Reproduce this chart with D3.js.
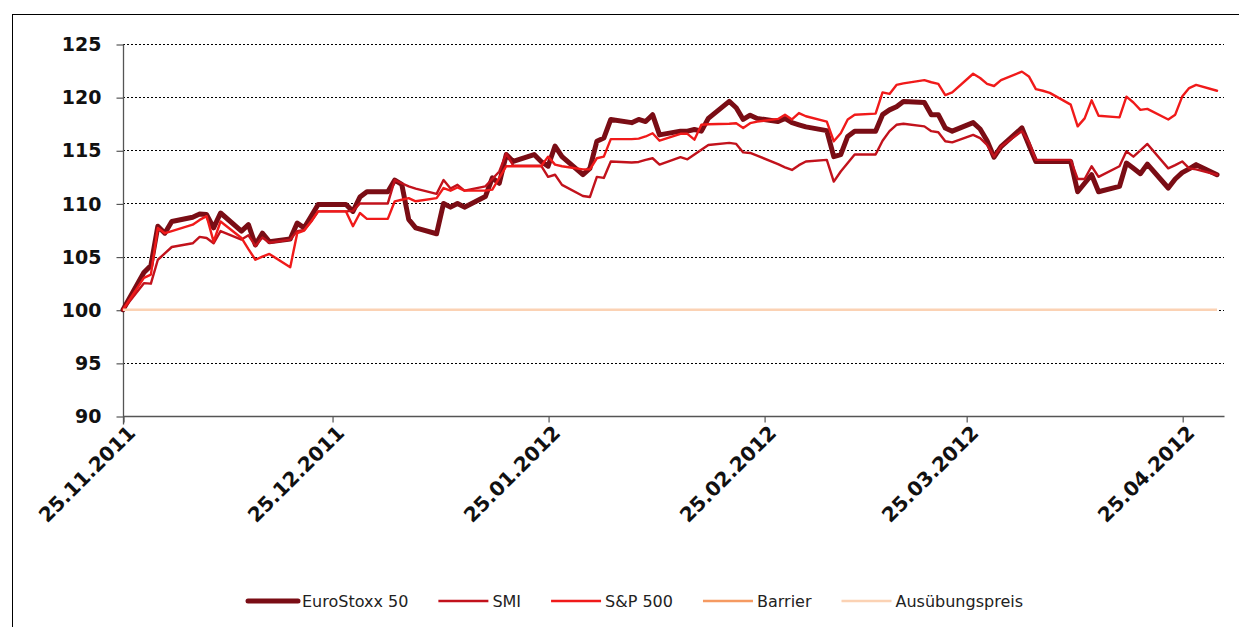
<!DOCTYPE html>
<html>
<head>
<meta charset="utf-8">
<script src="https://cdn.jsdelivr.net/npm/d3@7"></script>
<style>
  html, body { margin: 0; padding: 0; background: #fff; }
  svg { display: block; }
</style>
</head>
<body>
<svg id="chart" width="1239" height="627"></svg>
<script>
// ---------- DATA ----------
const dates = [
  "2011-11-25","2011-11-28","2011-11-29","2011-11-30",
  "2011-12-01","2011-12-02","2011-12-05","2011-12-06","2011-12-07","2011-12-08","2011-12-09",
  "2011-12-12","2011-12-13","2011-12-14","2011-12-15","2011-12-16","2011-12-19","2011-12-20",
  "2011-12-21","2011-12-22","2011-12-23","2011-12-26","2011-12-27","2011-12-28","2011-12-29","2011-12-30",
  "2012-01-02","2012-01-03","2012-01-04","2012-01-05","2012-01-06","2012-01-09","2012-01-10",
  "2012-01-11","2012-01-12","2012-01-13","2012-01-16","2012-01-17","2012-01-18","2012-01-19",
  "2012-01-20","2012-01-23","2012-01-24","2012-01-25","2012-01-26","2012-01-27","2012-01-30","2012-01-31",
  "2012-02-01","2012-02-02","2012-02-03","2012-02-06","2012-02-07","2012-02-08","2012-02-09","2012-02-10",
  "2012-02-13","2012-02-14","2012-02-15","2012-02-16","2012-02-17","2012-02-20","2012-02-21","2012-02-22",
  "2012-02-23","2012-02-24","2012-02-27","2012-02-28","2012-02-29",
  "2012-03-01","2012-03-02","2012-03-05","2012-03-06","2012-03-07","2012-03-08","2012-03-09","2012-03-12",
  "2012-03-13","2012-03-14","2012-03-15","2012-03-16","2012-03-19","2012-03-20","2012-03-21","2012-03-22",
  "2012-03-23","2012-03-26","2012-03-27","2012-03-28","2012-03-29","2012-03-30",
  "2012-04-02","2012-04-03","2012-04-04","2012-04-05","2012-04-06","2012-04-09","2012-04-10","2012-04-11",
  "2012-04-12","2012-04-13","2012-04-16","2012-04-17","2012-04-18","2012-04-19","2012-04-20","2012-04-23",
  "2012-04-24","2012-04-25","2012-04-26","2012-04-27","2012-04-30"
];

const euroStoxx50 = [
  100,103.5,104.15,107.85,
  107.2,108.3,108.7,109.0,108.95,107.7,109.1,
  107.4,108.0,106.1,107.2,106.4,106.65,108.15,
  107.7,108.8,109.9,109.9,109.9,109.25,110.6,111.1,
  111.1,112.2,111.8,108.5,107.7,107.15,110.0,
  109.65,110.0,109.65,110.65,112.4,111.9,114.6,
  113.95,114.6,113.95,113.5,115.4,114.4,112.7,113.3,
  115.85,116.15,117.9,117.6,117.9,117.7,118.35,116.45,
  116.8,116.8,116.95,116.8,118.0,119.6,119.0,117.9,
  118.3,118.0,117.7,118.0,117.6,
  117.4,117.2,116.85,114.4,114.6,116.3,116.8,116.8,
  118.35,118.8,119.1,119.6,119.5,118.35,118.35,117.1,
  116.8,117.6,117.0,115.9,114.35,115.35,
  117.1,115.5,113.95,113.95,113.95,113.95,111.1,111.9,
  112.7,111.1,111.6,113.8,113.3,112.8,113.7,111.45,
  112.3,112.9,113.25,113.65,112.7
];

const smi = [
  100,102.5,102.45,104.7,
  105.3,105.9,106.25,106.85,106.75,106.25,107.4,
  106.6,107.0,106.0,106.8,106.3,106.6,107.4,
  107.5,108.3,109.25,109.25,109.25,109.3,110.0,110.0,
  110.0,112.2,111.9,111.6,111.4,110.9,112.2,
  111.4,111.75,111.2,111.6,112.3,113.0,114.7,
  113.55,113.55,113.55,112.5,112.7,111.75,110.7,110.6,
  112.5,112.4,113.95,113.85,113.9,114.1,114.25,113.65,
  114.35,114.15,114.6,115.05,115.5,115.7,115.6,114.8,
  114.75,114.5,113.7,113.4,113.15,
  113.6,113.95,114.1,112.05,113.0,113.8,114.6,114.6,
  115.9,116.8,117.4,117.5,117.25,116.8,116.7,115.85,
  115.75,116.45,116.15,115.5,114.4,115.35,
  116.8,115.8,114.1,114.1,114.1,114.1,112.3,112.3,
  113.5,112.5,113.5,114.9,114.4,115.0,115.6,113.3,
  113.6,113.95,113.3,113.2,112.7
];

const sp500 = [
  100,103.0,103.3,107.7,
  107.2,107.4,108.0,108.45,108.8,106.4,108.3,
  106.75,105.7,104.7,105.0,105.25,104.0,107.2,
  107.45,108.3,109.25,109.25,109.25,107.85,109.1,108.55,
  108.55,110.2,110.35,110.5,110.2,110.5,111.45,
  111.2,111.5,111.2,111.2,111.3,112.4,113.5,
  113.5,113.5,113.5,114.4,113.65,113.5,113.2,113.2,
  114.25,114.4,116.05,116.05,116.1,116.3,116.6,115.9,
  116.55,116.55,116.0,117.4,117.45,117.5,117.55,117.1,
  117.55,117.7,117.95,118.35,117.9,
  118.5,118.2,117.7,115.85,116.6,117.9,118.35,118.45,
  120.45,120.3,121.15,121.3,121.6,121.4,121.25,120.2,
  120.45,122.2,121.8,121.25,121.05,121.6,
  122.4,121.95,120.75,120.6,120.4,119.3,117.25,118.0,
  119.7,118.25,118.1,120.05,119.5,118.8,118.9,117.9,
  118.35,120.05,120.85,121.15,120.6
];

const strikeLevel = 100;   // Ausübungspreis
const yTicks = [90, 95, 100, 105, 110, 115, 120, 125];
const xTickDates = ["2011-11-25","2011-12-25","2012-01-25","2012-02-25","2012-03-25","2012-04-25"];
const seriesNames = ["EuroStoxx 50", "SMI", "S&P 500", "Barrier", "Ausübungspreis"];

(function () {
// ---------- STYLE ----------
const colors = {
  "EuroStoxx 50": "#7a0d15",
  "SMI": "#c2121c",
  "S&P 500": "#f01a1a",
  "Barrier": "#f59a62",
  "Ausübungspreis": "#fbd2b4"
};
const widths = { "EuroStoxx 50": 5, "SMI": 2.4, "S&P 500": 2.4, "Barrier": 2.4, "Ausübungspreis": 2.4 };

// ---------- LAYOUT ----------
const svg = d3.select("#chart");
const parse = d3.timeParse("%Y-%m-%d");
const fmt = d3.timeFormat("%d.%m.%Y");

const pLeft = 123, pRight = 1224, pTop = 44, pBottom = 416;

const x = d3.scaleTime()
  .domain([parse("2011-11-25"), parse("2012-05-01")])
  .range([pLeft, pRight]);
const y = d3.scaleLinear().domain([90, 125]).range([pBottom, pTop]);

svg.append("rect").attr("width", 1239).attr("height", 627).attr("fill", "#fff");

// outer frame
svg.append("rect")
  .attr("x", 12.5).attr("y", 14.5)
  .attr("width", 1300).attr("height", 700)
  .attr("fill", "none").attr("stroke", "#000").attr("stroke-width", 1);

// gridlines
svg.append("g")
  .selectAll("line")
  .data(yTicks.filter(t => t > 90))
  .join("line")
  .attr("x1", pLeft).attr("x2", pRight)
  .attr("y1", d => Math.round(y(d)) + 0.5).attr("y2", d => Math.round(y(d)) + 0.5)
  .attr("stroke", "#000").attr("stroke-width", 1)
  .attr("stroke-dasharray", "2,2");

// y axis
const yAxis = d3.axisLeft(y).tickValues(yTicks).tickSize(7).tickPadding(15)
  .tickFormat(d3.format("d"));
const gy = svg.append("g").attr("transform", `translate(${pLeft + 0.5},0.5)`).call(yAxis);
gy.select(".domain").attr("stroke", "#555").attr("stroke-width", 1.3)
  .attr("d", `M0,${pTop}V${pBottom + 8}`);
gy.selectAll(".tick line").attr("stroke", "#555").attr("stroke-width", 1.2);
gy.selectAll(".tick text")
  .attr("font-family", "'DejaVu Sans', sans-serif")
  .attr("font-weight", "bold").attr("font-size", 19).attr("fill", "#111");

// x axis
const xAxis = d3.axisBottom(x).tickValues(xTickDates.map(parse)).tickSize(6).tickFormat(fmt);
const gx = svg.append("g").attr("transform", `translate(0.5,${pBottom + 0.5})`).call(xAxis);
gx.select(".domain").attr("stroke", "#555").attr("stroke-width", 1.3)
  .attr("d", `M${pLeft},0H${pRight}`);
gx.selectAll(".tick line").attr("stroke", "#555").attr("stroke-width", 1.2);
gx.selectAll(".tick text")
  .attr("font-family", "'DejaVu Sans', sans-serif")
  .attr("font-weight", "bold").attr("font-size", 20).attr("fill", "#111")
  .attr("text-anchor", "end")
  .attr("transform", "translate(2,7) rotate(-45)")
  .attr("dx", 0).attr("dy", "0.75em").attr("y", 0);

// series
const parsedDates = dates.map(parse);
const series = [
  { name: "EuroStoxx 50", values: euroStoxx50 },
  { name: "SMI", values: smi },
  { name: "S&P 500", values: sp500 }
];
const line = d3.line().x(d => x(d[0])).y(d => y(d[1]));

const plot = svg.append("g");
series.forEach(s => {
  plot.append("path")
    .datum(parsedDates.map((d, i) => [d, s.values[i]]))
    .attr("d", line)
    .attr("fill", "none")
    .attr("stroke", colors[s.name])
    .attr("stroke-width", widths[s.name])
    .attr("stroke-linejoin", "round")
    .attr("stroke-linecap", "round");
});

// strike line (Ausübungspreis)
plot.append("path")
  .datum([[parsedDates[0], strikeLevel], [parsedDates[parsedDates.length - 1], strikeLevel]])
  .attr("d", line)
  .attr("fill", "none")
  .attr("stroke", colors["Ausübungspreis"])
  .attr("stroke-width", widths["Ausübungspreis"]);

// legend
const legend = svg.append("g").attr("transform", "translate(248,601)");
let cx = 0;
seriesNames.forEach(name => {
  const g = legend.append("g").attr("transform", `translate(${cx},0)`);
  g.append("line").attr("x1", 0).attr("x2", 50).attr("y1", 0).attr("y2", 0)
    .attr("stroke", colors[name]).attr("stroke-width", widths[name])
    .attr("stroke-linecap", name === "EuroStoxx 50" ? "round" : "butt");
  const t = g.append("text").attr("x", 54).attr("y", 0).attr("dy", "0.35em")
    .attr("font-family", "'DejaVu Sans', sans-serif")
    .attr("font-size", 16).attr("fill", "#222").text(name);
  const w = t.node().getComputedTextLength();
  cx += 54 + w + 30;
});
})();
</script>
</body>
</html>
